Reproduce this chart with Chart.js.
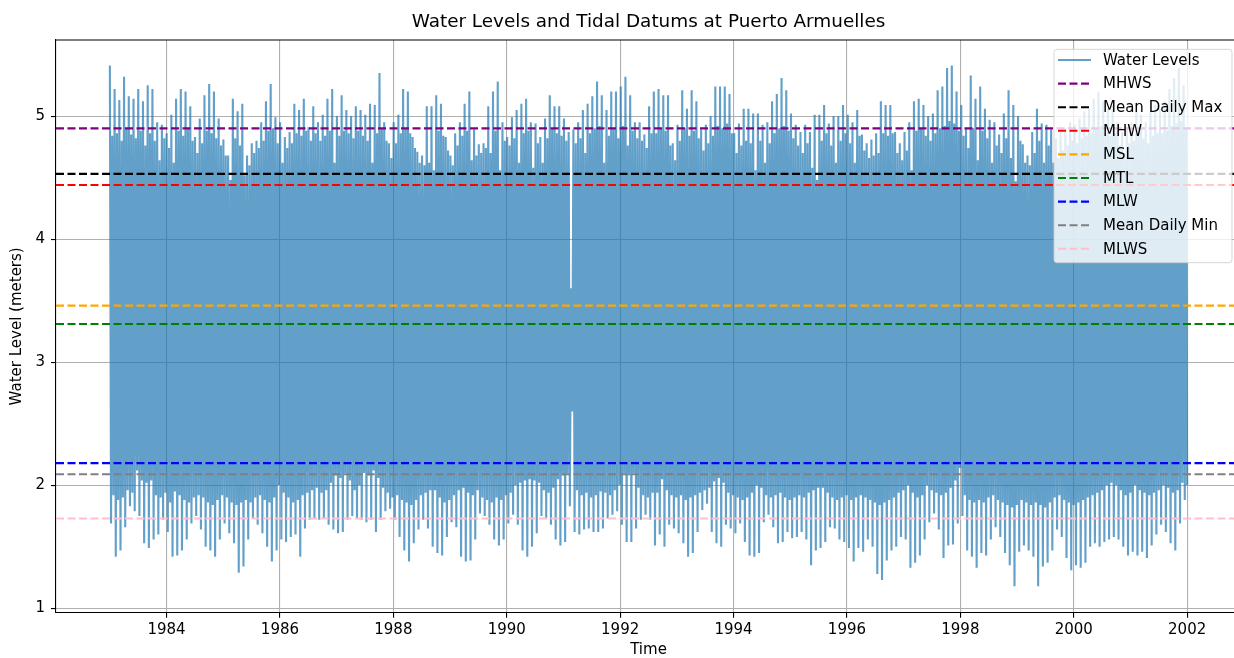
<!DOCTYPE html>
<html>
<head>
<meta charset="utf-8">
<title>Water Levels and Tidal Datums at Puerto Armuelles</title>
<script src="https://cdn.jsdelivr.net/npm/chart.js@4.4.1/dist/chart.umd.min.js"></script>
<style>
  html, body { margin: 0; padding: 0; background: #fff; overflow: hidden; }
  #wrap { position: absolute; left: 0; top: 0; width: 1250px; height: 658px; }
</style>
</head>
<body>
<div id="wrap"><canvas id="tideChart" width="1250" height="658"></canvas></div>
<script>
// Record runs 1983-01 .. 2002-01, one row per year, one value per month (metres)
const startYear = 1983;
const endYear = 2002;

// highest high water of each month (spring tides)
const springHigh = [
    5.41, 5.22, 5.13, 5.32, 5.16, 5.14, 5.22, 5.12, 5.25, 5.22, 4.95, 4.93,
    4.86, 5.01, 5.14, 5.22, 5.20, 5.08, 4.83, 4.98, 5.17, 5.26, 5.20, 4.98,
    4.81, 4.68, 5.14, 5.04, 5.10, 4.68, 4.78, 4.80, 4.95, 5.12, 5.26, 4.99,
    4.95, 4.83, 4.87, 5.10, 5.05, 5.14, 4.91, 5.08, 4.95, 5.01, 5.14, 5.22,
    5.00, 5.17, 5.05, 5.00, 5.08, 5.05, 5.01, 5.10, 5.09, 5.35, 4.95, 4.78,
    4.95, 5.01, 5.22, 5.20, 4.83, 4.71, 4.68, 5.08, 5.08, 5.17, 5.10, 4.83,
    4.68, 4.86, 4.95, 5.10, 5.20, 4.89, 4.77, 4.78, 5.08, 5.20, 5.28, 4.95,
    4.83, 4.99, 5.05, 5.10, 5.14, 4.95, 4.94, 4.83, 4.98, 5.17, 5.08, 5.08,
    4.98, 4.87, 4.89, 4.95, 5.05, 5.10, 5.16, 5.28, 5.17, 5.05, 5.20, 5.20,
    5.24, 5.32, 5.17, 4.95, 4.95, 4.85, 5.08, 5.20, 5.22, 5.17, 5.17, 4.78,
    4.93, 5.21, 5.06, 5.21, 5.12, 4.89, 4.93, 5.00, 5.24, 5.24, 5.24, 5.18,
    4.86, 4.94, 5.06, 5.06, 5.02, 5.02, 4.93, 4.95, 5.12, 5.18, 5.31, 5.21,
    5.02, 4.93, 4.87, 4.93, 4.87, 5.01, 5.01, 5.09, 4.94, 5.00, 5.00, 5.09,
    5.01, 4.95, 5.05, 4.85, 4.78, 4.81, 4.86, 5.12, 5.09, 5.09, 4.87, 4.78,
    4.87, 4.95, 5.12, 5.14, 5.09, 5.00, 5.02, 5.21, 5.24, 5.39, 5.41, 5.20,
    5.09, 4.90, 5.33, 5.14, 5.24, 5.06, 4.97, 4.95, 4.85, 5.02, 5.21, 5.09,
    5.00, 4.77, 4.68, 4.87, 5.06, 4.94, 4.93, 4.89, 4.82, 4.87, 4.90, 4.95,
    4.93, 4.98, 5.04, 5.06, 5.14, 5.20, 5.12, 5.06, 5.09, 4.95, 4.87, 4.90,
    4.95, 5.04, 5.01, 4.95, 5.04, 5.09, 5.06, 5.12, 5.22, 5.31, 5.39, 5.25
];

// high water around neap tides, between the spring peaks
const neapHigh = [
    4.84, 4.86, 4.80, 4.90, 4.85, 4.82, 4.88, 4.76, 4.86, 4.80, 4.64, 4.82,
    4.74, 4.62, 4.88, 4.84, 4.90, 4.80, 4.70, 4.78, 4.88, 4.86, 4.82, 4.76,
    4.68, 4.48, 4.82, 4.76, 4.52, 4.60, 4.70, 4.74, 4.80, 4.88, 4.90, 4.78,
    4.62, 4.74, 4.78, 4.86, 4.84, 4.88, 4.80, 4.86, 4.80, 4.84, 4.88, 4.62,
    4.84, 4.88, 4.86, 4.82, 4.88, 4.84, 4.80, 4.62, 4.86, 4.90, 4.80, 4.66,
    4.78, 4.86, 4.90, 4.86, 4.74, 4.62, 4.60, 4.62, 4.56, 4.88, 4.84, 4.72,
    4.60, 4.76, 4.84, 4.88, 4.64, 4.68, 4.70, 4.74, 4.70, 4.88, 4.56, 4.80,
    4.76, 4.82, 4.62, 4.86, 4.88, 4.58, 4.78, 4.62, 4.82, 4.90, 4.86, 4.84,
    4.80, 3.60, 4.78, 4.82, 4.70, 4.86, 4.90, 4.92, 4.62, 4.84, 4.90, 4.82,
    4.92, 4.76, 4.88, 4.82, 4.80, 4.74, 4.86, 4.86, 4.90, 4.88, 4.76, 4.64,
    4.80, 4.90, 4.84, 4.88, 4.82, 4.72, 4.78, 4.84, 4.92, 4.90, 4.94, 4.86,
    4.70, 4.76, 4.80, 4.78, 4.56, 4.80, 4.62, 4.78, 4.86, 4.90, 4.92, 4.88,
    4.82, 4.76, 4.70, 4.78, 4.58, 4.48, 4.80, 4.86, 4.76, 4.62, 4.80, 4.86,
    4.78, 4.62, 4.84, 4.72, 4.66, 4.68, 4.70, 4.86, 4.84, 4.86, 4.70, 4.64,
    4.72, 4.56, 4.88, 4.90, 4.84, 4.80, 4.86, 4.90, 4.92, 4.96, 4.94, 4.88,
    4.84, 4.74, 4.90, 4.64, 4.88, 4.82, 4.62, 4.76, 4.70, 4.82, 4.66, 4.47,
    4.80, 4.62, 4.60, 4.70, 4.80, 4.62, 4.76, 4.62, 4.66, 4.72, 4.76, 4.80,
    4.78, 4.82, 4.84, 4.86, 4.90, 4.92, 4.86, 4.84, 4.86, 4.76, 4.70, 4.78,
    4.80, 4.84, 4.82, 4.78, 4.84, 4.86, 4.86, 4.88, 4.92, 4.94, 4.96, 4.90
];

// lowest low water of each month (spring tides)
const springLow = [
    1.69, 1.42, 1.47, 1.66, 1.83, 1.79, 1.75, 1.53, 1.49, 1.56, 1.60, 1.72,
    1.62, 1.42, 1.43, 1.47, 1.56, 1.69, 1.75, 1.64, 1.50, 1.47, 1.42, 1.56,
    1.69, 1.61, 1.53, 1.29, 1.34, 1.56, 1.73, 1.68, 1.61, 1.50, 1.38, 1.47,
    1.56, 1.54, 1.58, 1.60, 1.42, 1.65, 1.72, 1.73, 1.72, 1.73, 1.68, 1.64,
    1.61, 1.62, 1.72, 1.75, 1.73, 1.72, 1.70, 1.72, 1.62, 1.72, 1.79, 1.81,
    1.72, 1.58, 1.47, 1.38, 1.53, 1.64, 1.72, 1.65, 1.50, 1.45, 1.43, 1.58,
    1.70, 1.66, 1.42, 1.38, 1.39, 1.56, 1.77, 1.75, 1.68, 1.56, 1.51, 1.56,
    1.69, 1.76, 1.68, 1.47, 1.42, 1.50, 1.61, 1.75, 1.73, 1.68, 1.56, 1.51,
    1.54, 1.83, 1.62, 1.60, 1.64, 1.65, 1.62, 1.62, 1.65, 1.73, 1.76, 1.79,
    1.68, 1.54, 1.54, 1.65, 1.72, 1.76, 1.72, 1.51, 1.60, 1.50, 1.68, 1.65,
    1.61, 1.53, 1.42, 1.45, 1.62, 1.80, 1.85, 1.62, 1.53, 1.50, 1.68, 1.65,
    1.61, 1.69, 1.54, 1.43, 1.42, 1.45, 1.70, 1.76, 1.66, 1.53, 1.54, 1.62,
    1.57, 1.58, 1.62, 1.56, 1.35, 1.47, 1.49, 1.54, 1.66, 1.65, 1.56, 1.54,
    1.49, 1.38, 1.49, 1.46, 1.56, 1.50, 1.28, 1.23, 1.39, 1.47, 1.50, 1.58,
    1.56, 1.33, 1.37, 1.43, 1.56, 1.70, 1.77, 1.64, 1.41, 1.51, 1.52, 1.69,
    1.75, 1.47, 1.42, 1.33, 1.45, 1.43, 1.56, 1.66, 1.58, 1.45, 1.35, 1.18,
    1.46, 1.51, 1.47, 1.42, 1.18, 1.34, 1.37, 1.47, 1.64, 1.58, 1.41, 1.31,
    1.35, 1.33, 1.37, 1.50, 1.53, 1.50, 1.54, 1.56, 1.58, 1.56, 1.50, 1.43,
    1.46, 1.43, 1.46, 1.41, 1.51, 1.60, 1.68, 1.62, 1.53, 1.47, 1.69, 1.88
];

// low water around neap tides
const neapLow = [
    1.92, 1.88, 1.90, 1.96, 1.94, 2.12, 2.04, 2.02, 2.04, 1.92, 1.90, 1.94,
    1.86, 1.95, 1.92, 1.88, 1.86, 1.90, 1.92, 1.90, 1.86, 1.84, 1.88, 1.92,
    1.90, 1.86, 1.84, 1.86, 1.88, 1.86, 1.90, 1.92, 1.88, 1.86, 1.90, 2.00,
    1.94, 1.90, 1.86, 1.88, 1.92, 1.94, 1.96, 1.98, 1.94, 1.96, 2.02, 2.08,
    2.06, 2.10, 2.04, 1.96, 2.00, 2.10, 2.08, 2.12, 2.06, 1.98, 1.94, 1.90,
    1.92, 1.88, 1.86, 1.84, 1.88, 1.92, 1.94, 1.96, 1.96, 1.90, 1.86, 1.88,
    1.92, 1.96, 1.98, 1.94, 1.92, 1.96, 1.90, 1.88, 1.86, 1.90, 1.88, 1.92,
    1.94, 2.00, 2.02, 2.04, 2.05, 2.04, 2.02, 1.96, 1.94, 1.98, 2.05, 2.08,
    2.10, 2.60, 1.96, 1.92, 1.94, 1.90, 1.92, 1.95, 1.94, 1.92, 1.96, 2.00,
    2.10, 2.08, 2.10, 1.98, 1.92, 1.90, 1.94, 1.94, 2.05, 1.96, 1.92, 1.90,
    1.92, 1.88, 1.90, 1.92, 1.94, 1.96, 1.98, 2.03, 2.06, 2.02, 1.94, 1.92,
    1.90, 1.88, 1.90, 1.94, 2.00, 1.98, 1.92, 1.90, 1.92, 1.94, 1.90, 1.88,
    1.90, 1.92, 1.90, 1.94, 1.96, 1.98, 1.98, 1.94, 1.90, 1.88, 1.90, 1.92,
    1.88, 1.90, 1.92, 1.90, 1.88, 1.86, 1.84, 1.86, 1.88, 1.90, 1.94, 1.96,
    2.00, 1.94, 1.90, 1.92, 2.00, 1.96, 1.94, 1.92, 1.94, 1.98, 2.04, 2.14,
    1.92, 1.88, 1.86, 1.88, 1.86, 1.90, 1.92, 1.88, 1.86, 1.84, 1.82, 1.84,
    1.88, 1.86, 1.84, 1.86, 1.84, 1.82, 1.86, 1.90, 1.92, 1.88, 1.86, 1.84,
    1.86, 1.88, 1.90, 1.92, 1.94, 1.96, 2.00, 2.02, 2.00, 1.96, 1.92, 1.94,
    2.00, 1.96, 1.94, 1.92, 1.94, 1.96, 2.00, 1.98, 1.94, 1.96, 2.02, 2.00
];

// tidal datums (m)
const datumNames = ['MHWS', 'Mean Daily Max', 'MHW', 'MSL', 'MTL', 'MLW', 'Mean Daily Min', 'MLWS'];
const datumLevels = [4.90, 4.53, 4.44, 3.46, 3.31, 2.18, 2.09, 1.73];
const datumColors = ['purple', 'black', 'red', 'orange', 'green', 'blue', 'gray', 'pink'];

const xTicks = [1984, 1986, 1988, 1990, 1992, 1994, 1996, 1998, 2000, 2002];
const yTicks = [1, 2, 3, 4, 5];

const X_MIN = 1982.05, X_MAX = 2002.95;
const Y_MIN = 0.965, Y_MAX = 5.618;

const FONT = "'DejaVu Sans', 'Liberation Sans', sans-serif";
const WATER_COLOR = 'rgba(31, 119, 180, 0.7)';
const DASH = [8, 3.5];

// spring high, spring low, neap high, neap low for every month, spread evenly in time
function buildWaterSeries() {
    const pts = [];
    const total = springHigh.length * 4;
    for (let m = 0; m < springHigh.length; m++) {
        const vals = [springHigh[m], springLow[m], neapHigh[m], neapLow[m]];
        vals.forEach((v, k) => {
            const i = m * 4 + k;
            pts.push({ x: startYear + (i / (total - 1)) * (endYear - startYear), y: v });
        });
    }
    return pts;
}

const datasets = [{
    label: 'Water Levels',
    data: buildWaterSeries(),
    borderColor: WATER_COLOR,
    borderWidth: 2.1,
    pointRadius: 0,
    tension: 0,
    order: 1
}];

datumNames.forEach((name, i) => {
    datasets.push({
        label: name,
        data: [{ x: X_MIN, y: datumLevels[i] }, { x: X_MAX, y: datumLevels[i] }],
        borderColor: datumColors[i],
        borderWidth: 2.1,
        borderDash: DASH,
        pointRadius: 0,
        order: 0
    });
});

// title, top frame line and the boxed legend inside the axes
const decorations = {
    id: 'decorations',
    afterDraw(chart) {
        const { ctx, chartArea } = chart;
        ctx.save();

        ctx.fillStyle = '#000';
        ctx.font = '18.4px ' + FONT;
        ctx.textAlign = 'center';
        ctx.textBaseline = 'middle';
        ctx.fillText('Water Levels and Tidal Datums at Puerto Armuelles',
            (chartArea.left + chartArea.right) / 2, chartArea.top - 18);

        ctx.strokeStyle = '#000';
        ctx.lineWidth = 1.1;
        ctx.beginPath();
        ctx.moveTo(chartArea.left, chartArea.top);
        ctx.lineTo(chartArea.right, chartArea.top);
        ctx.stroke();

        // legend
        const boxRight = chartArea.right - 9;
        const boxLeft = boxRight - 178;
        const boxTop = chartArea.top + 9.3;
        const boxH = 213.4;
        ctx.beginPath();
        ctx.roundRect(boxLeft, boxTop, boxRight - boxLeft, boxH, 3);
        ctx.fillStyle = 'rgba(255,255,255,0.8)';
        ctx.fill();
        ctx.strokeStyle = 'rgba(204,204,204,0.8)';
        ctx.lineWidth = 1;
        ctx.stroke();

        ctx.font = '15px ' + FONT;
        ctx.textAlign = 'left';
        ctx.textBaseline = 'middle';
        chart.data.datasets.forEach((ds, i) => {
            const y = boxTop + 10.7 + i * 23.6;
            ctx.beginPath();
            ctx.setLineDash(ds.borderDash || []);
            ctx.strokeStyle = ds.borderColor;
            ctx.lineWidth = 2.1;
            ctx.moveTo(boxLeft + 4, y);
            ctx.lineTo(boxLeft + 37, y);
            ctx.stroke();
            ctx.setLineDash([]);
            ctx.fillStyle = '#000';
            ctx.fillText(ds.label, boxLeft + 49, y + 1);
        });
        ctx.restore();
    }
};

document.addEventListener('DOMContentLoaded', () => {
    const ctx = document.getElementById('tideChart').getContext('2d');
    new Chart(ctx, {
        type: 'line',
        data: { datasets },
        options: {
            responsive: false,
            devicePixelRatio: 1,
            animation: false,
            events: [],
            parsing: false,
            layout: { padding: { left: 0, right: 9, top: 40, bottom: 0 } },
            plugins: {
                legend: { display: false },
                tooltip: { enabled: false },
                title: { display: false }
            },
            scales: {
                x: {
                    type: 'linear',
                    min: X_MIN,
                    max: X_MAX,
                    afterBuildTicks: s => { s.ticks = xTicks.map(v => ({ value: v })); },
                    afterFit: s => { s.height = 45.3; },
                    grid: { color: '#b0b0b0', lineWidth: 1.1, tickLength: 5, tickColor: '#000', tickWidth: 1.1 },
                    border: { display: true, color: '#000', width: 1.1 },
                    ticks: {
                        color: '#000',
                        padding: 3,
                        maxRotation: 0,
                        font: { family: FONT, size: 15 },
                        callback: v => String(v)
                    },
                    title: {
                        display: true,
                        text: 'Time',
                        color: '#000',
                        font: { family: FONT, size: 15, lineHeight: 1 },
                        padding: { top: 0, bottom: 0 }
                    }
                },
                y: {
                    type: 'linear',
                    min: Y_MIN,
                    max: Y_MAX,
                    afterBuildTicks: s => { s.ticks = yTicks.map(v => ({ value: v })); },
                    afterFit: s => { s.width = 56; },
                    grid: { color: '#b0b0b0', lineWidth: 1.1, tickLength: 5, tickColor: '#000', tickWidth: 1.1 },
                    border: { display: true, color: '#000', width: 1.1 },
                    ticks: {
                        color: '#000',
                        padding: 6,
                        font: { family: FONT, size: 15 },
                        callback: v => String(v)
                    },
                    title: {
                        display: true,
                        text: 'Water Level (meters)',
                        color: '#000',
                        font: { family: FONT, size: 15, lineHeight: 1 },
                        padding: { top: 10, bottom: 0 }
                    }
                }
            }
        },
        plugins: [decorations]
    });
});
</script>
</body>
</html>
